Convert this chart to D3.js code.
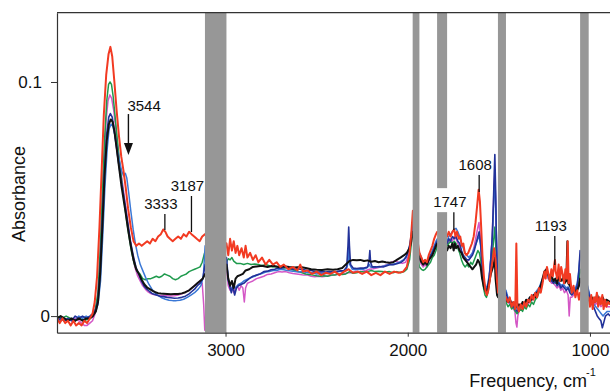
<!DOCTYPE html>
<html>
<head>
<meta charset="utf-8">
<script src="https://cdn.jsdelivr.net/npm/d3@7"></script>
<style>
  html, body { margin: 0; padding: 0; background: #fff; }
  svg { display: block; font-family: "Liberation Sans", Arial, sans-serif; }
</style>
</head>
<body>
<div id="chart"></div>
<script>
// spectra: [wavenumber cm-1, absorbance]
const red = [
  [3925,-0.001],[3910,-0.003],[3895,-0.001],[3880,-0.003],[3865,-0.002],[3850,-0.004],[3835,-0.002],[3820,-0.004],
  [3805,-0.003],[3790,-0.004],[3775,-0.002],[3760,-0.003],[3745,-0.001],[3730,0.001],[3718,0.006],[3705,0.017],
  [3692,0.038],[3680,0.062],[3668,0.086],[3655,0.103],[3642,0.112],[3632,0.115],[3622,0.111],[3610,0.100],
  [3598,0.088],[3585,0.077],[3572,0.068],[3560,0.062],[3548,0.055],[3535,0.046],[3520,0.038],[3505,0.032],
  [3490,0.030],[3475,0.031],[3460,0.030],[3445,0.031],[3430,0.032],[3415,0.031],[3400,0.033],[3385,0.032],
  [3370,0.034],[3355,0.035],[3342,0.037],[3330,0.036],[3318,0.034],[3305,0.033],[3290,0.032],[3275,0.033],
  [3260,0.034],[3245,0.033],[3230,0.035],[3215,0.034],[3200,0.036],[3187,0.035],[3172,0.034],[3158,0.033],
  [3142,0.032],[3128,0.034],[3112,0.035],
  [2995,0.031],[2985,0.026],[2975,0.033],[2965,0.028],[2955,0.032],[2945,0.027],[2935,0.030],[2925,0.026],
  [2912,0.029],[2900,0.025],[2890,0.030],[2880,0.025],[2865,0.027],[2850,0.024],[2835,0.026],[2820,0.023],
  [2800,0.025],[2780,0.022],[2760,0.024],[2740,0.022],[2720,0.023],[2700,0.021],[2680,0.022],[2655,0.020],
  [2630,0.021],[2605,0.0195],[2590,0.022],[2575,0.019],[2550,0.0195],[2525,0.018],[2500,0.019],[2475,0.0175],
  [2450,0.0185],[2425,0.018],[2400,0.019],[2375,0.0175],[2350,0.019],[2325,0.020],[2300,0.0185],[2275,0.019],
  [2250,0.018],[2225,0.019],[2200,0.0175],[2175,0.0185],[2150,0.0175],[2125,0.019],[2100,0.018],[2075,0.019],
  [2050,0.0185],[2025,0.019],[2005,0.021],[1990,0.027],[1980,0.036],[1972,0.045],
  [1936,0.027],[1925,0.025],[1915,0.023],[1905,0.024],[1895,0.023],[1885,0.026],[1875,0.028],[1865,0.030],
  [1855,0.033],[1845,0.035],[1838,0.036],
  [1784,0.034],[1775,0.036],[1765,0.034],[1755,0.036],[1745,0.037],[1738,0.034],[1730,0.036],[1720,0.033],
  [1712,0.034],[1703,0.030],[1695,0.031],[1687,0.027],[1678,0.026],[1668,0.027],[1658,0.029],[1648,0.031],
  [1638,0.034],[1628,0.040],[1618,0.048],[1611,0.054],[1604,0.049],[1597,0.038],[1590,0.026],[1582,0.017],
  [1574,0.011],[1566,0.009],[1558,0.011],[1550,0.015],[1542,0.020],[1534,0.024],[1526,0.029],[1518,0.024],
  [1510,0.015],[1504,0.010],
  [1461,0.008],[1450,0.006],[1440,0.008],[1430,0.004],[1420,0.006],[1410,0.003],[1404,0.031],[1398,0.004],
  [1390,0.002],[1380,0.005],[1370,0.003],[1360,0.006],[1350,0.004],[1340,0.007],[1330,0.006],[1320,0.009],
  [1310,0.007],[1300,0.010],[1290,0.008],[1280,0.012],[1270,0.010],[1260,0.014],[1250,0.019],[1243,0.016],
  [1236,0.021],[1228,0.018],[1220,0.015],[1212,0.020],[1204,0.017],[1196,0.022],[1192,0.024],[1188,0.019],
  [1180,0.016],[1172,0.022],[1165,0.015],[1158,0.021],[1150,0.018],[1142,0.014],[1135,0.020],[1128,0.016],
  [1122,0.032],[1117,0.014],[1110,0.018],[1100,0.010],[1090,0.013],[1080,0.008],[1070,0.011],[1060,0.007],
  [1054,0.010],
  [1007,0.008],[1000,0.004],[993,0.009],[985,0.003],[977,0.008],[970,0.006],[962,0.010],[955,0.004],
  [947,0.008],[940,0.005],[932,0.009],[925,0.003],[917,0.007],[910,0.004],[900,0.006],[890,0.005]
];

const green = [
  [3925,0.000],[3900,-0.001],[3875,0.000],[3850,-0.001],[3825,-0.002],[3800,-0.001],[3775,-0.002],[3750,-0.001],
  [3730,0.000],[3715,0.003],[3700,0.010],[3688,0.028],[3676,0.052],[3664,0.075],[3652,0.092],[3642,0.099],
  [3634,0.100],[3626,0.099],[3617,0.094],[3607,0.086],[3595,0.076],[3582,0.066],[3570,0.058],[3558,0.050],
  [3545,0.042],[3530,0.034],[3515,0.027],[3500,0.022],[3485,0.019],[3470,0.018],[3455,0.016],[3440,0.0155],
  [3425,0.016],[3410,0.016],[3395,0.0165],[3380,0.017],[3365,0.0165],[3350,0.017],[3335,0.018],[3320,0.0175],
  [3305,0.017],[3290,0.016],[3275,0.0155],[3260,0.016],[3245,0.017],[3230,0.0175],[3215,0.018],[3200,0.019],
  [3185,0.0195],[3170,0.020],[3155,0.0205],[3140,0.021],[3128,0.023],[3115,0.027],
  [2995,0.023],[2985,0.0245],[2975,0.024],[2965,0.025],[2955,0.0235],[2940,0.0225],[2920,0.0225],[2900,0.022],
  [2880,0.0225],[2860,0.022],[2840,0.0222],[2820,0.022],[2800,0.0215],[2780,0.022],[2760,0.0215],[2740,0.021],
  [2720,0.0212],[2700,0.021],[2680,0.0205],[2660,0.0205],[2640,0.020],[2620,0.0195],[2600,0.019],[2580,0.0185],
  [2560,0.018],[2540,0.0178],[2520,0.0175],[2500,0.0172],[2480,0.017],[2460,0.0172],[2440,0.017],[2420,0.0175],
  [2400,0.0175],[2380,0.018],[2360,0.0178],[2340,0.018],[2320,0.019],[2300,0.0183],[2280,0.0185],[2260,0.019],
  [2240,0.0188],[2220,0.019],[2200,0.0195],[2180,0.019],[2160,0.0192],[2140,0.019],[2120,0.0188],[2100,0.019],
  [2080,0.0185],[2060,0.019],[2040,0.0185],[2020,0.019],[2005,0.020],[1990,0.024],[1980,0.031],[1972,0.040],
  [1936,0.021],[1925,0.020],[1915,0.0195],[1905,0.020],[1895,0.021],[1885,0.022],[1875,0.023],[1865,0.025],
  [1855,0.026],[1845,0.028],[1838,0.030],
  [1784,0.030],[1775,0.031],[1765,0.032],[1755,0.031],[1745,0.032],[1735,0.031],[1725,0.029],[1715,0.027],
  [1705,0.024],[1695,0.022],[1685,0.021],[1675,0.022],[1665,0.021],[1655,0.023],[1645,0.022],[1635,0.024],
  [1625,0.026],[1615,0.028],[1607,0.027],[1600,0.024],[1592,0.018],[1584,0.012],[1576,0.009],[1568,0.008],
  [1560,0.010],[1552,0.014],[1544,0.020],[1536,0.026],[1528,0.033],[1522,0.038],[1516,0.028],[1508,0.016],
  [1504,0.012],
  [1461,0.006],[1450,0.004],[1440,0.005],[1430,0.003],[1420,0.004],[1410,0.002],[1400,0.001],[1390,0.002],
  [1380,0.003],[1370,0.002],[1360,0.004],[1350,0.003],[1340,0.005],[1330,0.004],[1320,0.006],[1310,0.005],
  [1300,0.007],[1290,0.008],[1280,0.010],[1270,0.012],[1260,0.015],[1250,0.018],[1240,0.019],[1230,0.017],
  [1220,0.015],[1210,0.016],[1200,0.015],[1190,0.014],[1180,0.015],[1170,0.017],[1160,0.015],[1150,0.016],
  [1140,0.018],[1130,0.015],[1120,0.017],[1110,0.014],[1100,0.012],[1090,0.011],[1080,0.010],[1070,0.012],
  [1060,0.015],[1054,0.020],
  [1007,0.009],[995,0.007],[985,0.008],[970,0.006],[955,0.007],[940,0.006],[925,0.005],[910,0.006],[890,0.005]
];

const black = [
  [3925,-0.001],[3905,0.000],[3885,-0.001],[3865,-0.002],[3845,-0.001],[3825,-0.002],[3805,-0.001],[3785,-0.002],
  [3765,-0.001],[3745,-0.001],[3728,0.000],[3712,0.002],[3700,0.006],[3688,0.018],[3676,0.038],[3664,0.060],
  [3652,0.075],[3640,0.082],[3630,0.084],[3620,0.083],[3610,0.079],[3598,0.072],[3585,0.064],[3572,0.056],
  [3560,0.050],[3548,0.044],[3535,0.037],[3520,0.030],[3505,0.024],[3490,0.020],[3475,0.018],[3460,0.0155],
  [3445,0.0135],[3430,0.0122],[3415,0.0115],[3400,0.0108],[3385,0.0102],[3370,0.0098],[3355,0.0096],[3340,0.0095],
  [3320,0.0094],[3300,0.0093],[3280,0.0094],[3260,0.0094],[3240,0.0097],[3220,0.0102],[3200,0.011],[3185,0.012],
  [3170,0.013],[3155,0.014],[3140,0.015],[3125,0.016],[3112,0.018],
  [2995,0.022],[2985,0.016],[2975,0.013],[2965,0.015],[2955,0.012],[2945,0.016],[2935,0.017],[2920,0.0175],
  [2905,0.018],[2890,0.0195],[2870,0.020],[2850,0.021],[2830,0.0212],[2800,0.0215],[2770,0.021],[2740,0.0215],
  [2710,0.021],[2680,0.0213],[2650,0.021],[2620,0.0208],[2590,0.021],[2560,0.0205],[2530,0.020],[2500,0.0198],
  [2470,0.0197],[2440,0.020],[2410,0.0198],[2385,0.020],[2360,0.0205],[2340,0.022],[2320,0.0235],[2300,0.024],
  [2280,0.0238],[2260,0.024],[2240,0.0235],[2220,0.0238],[2200,0.0232],[2180,0.0235],[2160,0.023],[2140,0.0233],
  [2120,0.023],[2100,0.0228],[2080,0.023],[2060,0.024],[2040,0.025],[2020,0.026],[2005,0.027],[1990,0.029],
  [1980,0.032],[1972,0.036],
  [1936,0.025],[1925,0.023],[1915,0.022],[1905,0.023],[1895,0.022],[1885,0.024],[1875,0.025],[1865,0.026],
  [1855,0.028],[1845,0.030],[1838,0.031],
  [1784,0.028],[1775,0.030],[1765,0.029],[1755,0.031],[1748,0.028],[1742,0.031],[1735,0.029],[1725,0.030],
  [1715,0.028],[1705,0.027],[1695,0.025],[1685,0.024],[1675,0.023],[1665,0.022],[1655,0.021],[1645,0.020],
  [1635,0.021],[1625,0.022],[1615,0.024],[1608,0.023],[1600,0.021],[1592,0.016],[1584,0.013],[1576,0.011],
  [1568,0.010],[1560,0.012],[1552,0.015],[1544,0.018],[1536,0.020],[1528,0.022],[1523,0.025],[1518,0.016],
  [1510,0.009],[1504,0.008],
  [1461,0.007],[1450,0.006],[1440,0.007],[1430,0.005],[1420,0.006],[1410,0.004],[1400,0.004],[1390,0.005],
  [1380,0.004],[1370,0.006],[1360,0.005],[1350,0.007],[1340,0.006],[1330,0.008],[1320,0.007],[1310,0.009],
  [1300,0.008],[1290,0.010],[1280,0.011],[1270,0.013],[1260,0.016],[1250,0.019],[1240,0.020],[1230,0.018],
  [1220,0.016],[1210,0.017],[1200,0.015],[1190,0.016],[1180,0.014],[1170,0.017],[1160,0.015],[1150,0.016],
  [1140,0.014],[1130,0.015],[1124,0.032],[1119,0.014],[1110,0.013],[1100,0.011],[1090,0.012],[1080,0.010],
  [1070,0.011],[1060,0.013],[1054,0.016],
  [1007,0.007],[998,0.006],[990,0.008],[980,0.006],[970,0.007],[960,0.009],[950,0.006],[940,0.007],
  [930,0.008],[920,0.006],[910,0.007],[890,0.006]
];

const navy = [
  [3925,-0.002],[3905,-0.001],[3885,-0.002],[3865,-0.001],[3845,-0.002],[3825,0.000],[3805,-0.001],[3785,0.000],
  [3765,-0.001],[3745,0.000],[3728,0.001],[3712,0.003],[3700,0.007],[3688,0.020],[3676,0.042],[3664,0.063],
  [3652,0.078],[3641,0.085],[3632,0.0865],[3622,0.085],[3612,0.080],[3600,0.073],[3588,0.066],[3575,0.059],
  [3562,0.053],[3550,0.047],[3537,0.040],[3522,0.032],[3507,0.026],[3492,0.021],[3477,0.018],[3462,0.015],
  [3447,0.0128],[3432,0.0115],[3417,0.0105],[3400,0.0095],[3380,0.009],[3360,0.0085],[3340,0.0083],[3320,0.008],
  [3300,0.0078],[3280,0.0076],[3260,0.0077],[3240,0.008],[3220,0.0085],[3200,0.0095],[3185,0.0105],[3170,0.0115],
  [3155,0.013],[3140,0.014],[3125,0.016],[3112,0.022],
  [2995,0.025],[2985,0.016],[2975,0.012],[2968,0.010],[2960,0.013],[2950,0.009],[2940,0.012],[2930,0.013],
  [2915,0.0135],[2900,0.014],[2885,0.015],[2870,0.016],[2850,0.017],[2830,0.0175],[2810,0.018],[2790,0.019],
  [2770,0.0192],[2750,0.0198],[2730,0.020],[2710,0.0205],[2690,0.0205],[2670,0.021],[2650,0.0205],[2630,0.020],
  [2610,0.0202],[2590,0.020],[2570,0.0198],[2550,0.0195],[2530,0.0195],[2510,0.019],[2490,0.0188],[2470,0.019],
  [2450,0.0188],[2430,0.019],[2410,0.0188],[2390,0.019],[2370,0.0193],[2350,0.0195],[2335,0.021],[2328,0.030],
  [2324,0.038],[2320,0.030],[2314,0.022],[2300,0.0205],[2280,0.0203],[2260,0.0205],[2240,0.0205],[2220,0.021],
  [2212,0.024],[2208,0.028],[2204,0.023],[2195,0.021],[2175,0.021],[2155,0.0212],[2135,0.021],[2115,0.0215],
  [2095,0.022],[2075,0.022],[2055,0.0225],[2035,0.023],[2020,0.024],[2005,0.026],[1990,0.030],[1980,0.035],
  [1972,0.040],
  [1936,0.026],[1925,0.024],[1915,0.022],[1905,0.023],[1895,0.022],[1885,0.024],[1875,0.026],[1865,0.027],
  [1855,0.029],[1845,0.031],[1838,0.032],
  [1784,0.031],[1775,0.033],[1765,0.032],[1755,0.034],[1745,0.033],[1735,0.034],[1725,0.032],[1715,0.031],
  [1705,0.028],[1695,0.026],[1685,0.025],[1675,0.024],[1665,0.024],[1655,0.025],[1645,0.026],[1635,0.028],
  [1625,0.031],[1615,0.034],[1608,0.036],[1600,0.031],[1592,0.022],[1584,0.015],[1576,0.012],[1568,0.011],
  [1560,0.013],[1552,0.017],[1544,0.024],[1536,0.034],[1530,0.048],[1525,0.062],[1522,0.069],[1518,0.055],
  [1514,0.035],[1509,0.020],[1504,0.015],
  [1461,0.010],[1450,0.007],[1440,0.006],[1430,0.005],[1420,0.004],[1410,0.003],[1400,0.002],[1390,0.003],
  [1380,0.004],[1370,0.004],[1360,0.005],[1350,0.005],[1340,0.006],[1330,0.007],[1320,0.007],[1310,0.008],
  [1300,0.009],[1290,0.010],[1280,0.011],[1270,0.013],[1260,0.015],[1250,0.018],[1240,0.019],[1230,0.018],
  [1220,0.016],[1210,0.015],[1200,0.014],[1190,0.015],[1180,0.013],[1170,0.014],[1160,0.012],[1150,0.013],
  [1140,0.012],[1130,0.011],[1120,0.012],[1110,0.010],[1100,0.009],[1090,0.010],[1080,0.011],[1070,0.013],
  [1062,0.018],[1054,0.028],
  [1007,0.010],[1000,0.007],[990,0.005],[980,0.004],[970,0.002],[960,0.000],[950,-0.001],[940,-0.002],
  [932,-0.005],[925,-0.003],[915,0.000],[900,0.001],[890,0.000]
];

const blue = [
  [3925,-0.001],[3905,-0.002],[3885,-0.001],[3865,-0.002],[3845,-0.001],[3825,-0.002],[3805,0.000],[3785,-0.001],
  [3765,0.000],[3745,-0.001],[3728,0.000],[3712,0.002],[3700,0.005],[3686,0.015],[3674,0.034],[3662,0.055],
  [3650,0.071],[3639,0.080],[3628,0.082],[3618,0.081],[3606,0.077],[3594,0.071],[3582,0.066],[3570,0.062],
  [3560,0.060],[3550,0.061],[3542,0.059],[3532,0.053],[3520,0.045],[3507,0.037],[3495,0.031],[3482,0.026],
  [3468,0.022],[3452,0.019],[3436,0.016],[3420,0.0135],[3404,0.0115],[3388,0.010],[3370,0.0088],[3350,0.0078],
  [3330,0.0072],[3310,0.0068],[3290,0.0066],[3270,0.0066],[3250,0.0068],[3230,0.0072],[3210,0.008],[3190,0.009],
  [3170,0.010],[3150,0.0115],[3135,0.013],[3122,0.017],[3112,0.030],
  [2995,0.024],[2985,0.015],[2975,0.013],[2965,0.011],[2955,0.013],[2945,0.012],[2930,0.0135],[2915,0.014],
  [2900,0.015],[2880,0.0158],[2860,0.0165],[2840,0.017],[2820,0.0178],[2800,0.0182],[2780,0.0188],[2760,0.019],
  [2740,0.0195],[2720,0.0195],[2700,0.020],[2680,0.0198],[2660,0.0195],[2640,0.0193],[2620,0.019],[2600,0.0188],
  [2580,0.019],[2560,0.0187],[2540,0.0185],[2520,0.0185],[2500,0.018],[2480,0.0182],[2460,0.018],[2440,0.0183],
  [2420,0.0185],[2400,0.0187],[2380,0.019],[2360,0.019],[2340,0.0195],[2330,0.022],[2324,0.029],[2318,0.022],
  [2305,0.020],[2285,0.0198],[2265,0.020],[2245,0.020],[2225,0.0205],[2210,0.022],[2205,0.021],[2185,0.0208],
  [2165,0.021],[2145,0.0212],[2125,0.0215],[2105,0.022],[2085,0.022],[2065,0.0225],[2045,0.023],[2025,0.024],
  [2008,0.025],[1992,0.029],[1980,0.034],[1972,0.039],
  [1936,0.027],[1925,0.025],[1915,0.023],[1905,0.024],[1895,0.023],[1885,0.025],[1875,0.026],[1865,0.028],
  [1855,0.030],[1845,0.032],[1838,0.033],
  [1784,0.032],[1775,0.034],[1765,0.035],[1755,0.036],[1745,0.037],[1735,0.0375],[1725,0.036],[1715,0.034],
  [1705,0.031],[1695,0.029],[1685,0.027],[1675,0.026],[1665,0.025],[1655,0.026],[1645,0.027],[1635,0.029],
  [1625,0.031],[1615,0.033],[1608,0.034],[1600,0.030],[1592,0.022],[1584,0.016],[1576,0.013],[1568,0.012],
  [1560,0.014],[1552,0.018],[1544,0.025],[1536,0.033],[1530,0.044],[1525,0.054],[1521,0.058],[1517,0.047],
  [1512,0.030],[1507,0.019],[1504,0.016],
  [1461,0.011],[1450,0.008],[1440,0.007],[1430,0.006],[1420,0.005],[1410,0.004],[1400,0.003],[1390,0.004],
  [1380,0.005],[1370,0.005],[1360,0.006],[1350,0.006],[1340,0.007],[1330,0.008],[1320,0.008],[1310,0.009],
  [1300,0.010],[1290,0.011],[1280,0.012],[1270,0.014],[1260,0.016],[1250,0.018],[1240,0.0185],[1230,0.017],
  [1220,0.016],[1210,0.015],[1200,0.0145],[1190,0.015],[1180,0.014],[1170,0.0145],[1160,0.013],[1150,0.0135],
  [1140,0.013],[1130,0.012],[1120,0.0125],[1110,0.011],[1100,0.010],[1090,0.011],[1080,0.012],[1070,0.014],
  [1062,0.019],[1054,0.026],
  [1007,0.011],[998,0.008],[988,0.006],[978,0.005],[968,0.004],[958,0.003],[948,0.002],[938,0.001],
  [928,0.000],[918,0.001],[905,0.002],[890,0.002]
];

const magenta = [
  [3925,-0.002],[3905,-0.001],[3885,-0.002],[3865,-0.001],[3845,-0.002],[3825,-0.001],[3805,-0.002],[3790,-0.003],
  [3775,-0.004],[3760,-0.004],[3745,-0.003],[3730,-0.002],[3716,0.001],[3704,0.006],[3692,0.020],[3680,0.042],
  [3668,0.066],[3656,0.083],[3645,0.092],[3635,0.0945],[3625,0.093],[3614,0.088],[3602,0.080],[3590,0.071],
  [3577,0.063],[3564,0.056],[3552,0.049],[3540,0.042],[3526,0.034],[3512,0.027],[3498,0.021],[3484,0.0175],
  [3470,0.0152],[3455,0.013],[3440,0.0115],[3425,0.0103],[3410,0.0096],[3395,0.0092],[3380,0.009],[3360,0.0088],
  [3340,0.0088],[3320,0.0087],[3300,0.0086],[3280,0.0087],[3260,0.009],[3240,0.0095],[3220,0.0102],[3200,0.011],
  [3185,0.012],[3170,0.013],[3155,0.014],[3140,0.015],[3128,0.014],[3120,0.005],[3114,-0.006],
  [2995,0.020],[2985,0.013],[2975,0.011],[2965,0.012],[2955,0.010],[2945,0.012],[2935,0.013],[2925,0.011],
  [2915,0.013],[2905,0.012],[2897,0.006],[2890,0.012],[2880,0.014],[2865,0.0145],[2850,0.015],[2830,0.016],
  [2810,0.0165],[2790,0.017],[2770,0.0178],[2750,0.018],[2730,0.0185],[2710,0.019],[2690,0.0188],[2670,0.019],
  [2650,0.0185],[2630,0.0182],[2610,0.018],[2590,0.0178],[2570,0.0175],[2550,0.0175],[2530,0.017],[2510,0.0168],
  [2490,0.017],[2470,0.0168],[2450,0.017],[2430,0.0172],[2410,0.0175],[2390,0.0178],[2370,0.018],[2350,0.018],
  [2330,0.0185],[2310,0.0185],[2290,0.019],[2270,0.019],[2250,0.0192],[2230,0.0195],[2210,0.020],[2190,0.0202],
  [2170,0.0205],[2150,0.021],[2130,0.0215],[2110,0.022],[2090,0.023],[2070,0.0235],[2050,0.023],[2030,0.0225],
  [2012,0.023],[1995,0.026],[1983,0.031],[1972,0.037],
  [1936,0.024],[1925,0.022],[1915,0.021],[1905,0.022],[1895,0.021],[1885,0.023],[1875,0.025],[1865,0.026],
  [1855,0.028],[1845,0.030],[1838,0.031],
  [1784,0.030],[1775,0.032],[1765,0.033],[1755,0.032],[1745,0.034],[1735,0.033],[1725,0.031],[1715,0.030],
  [1705,0.027],[1695,0.025],[1685,0.024],[1675,0.023],[1665,0.024],[1655,0.025],[1645,0.027],[1635,0.030],
  [1625,0.034],[1615,0.038],[1609,0.040],[1602,0.034],[1594,0.024],[1586,0.016],[1578,0.012],[1570,0.010],
  [1562,0.012],[1554,0.016],[1546,0.023],[1538,0.032],[1531,0.045],[1526,0.056],[1522,0.061],[1518,0.050],
  [1513,0.032],[1508,0.018],[1504,0.012],
  [1461,0.008],[1450,0.006],[1440,0.005],[1430,0.004],[1420,0.003],[1412,0.002],[1406,-0.003],[1401,-0.0047],
  [1396,0.000],[1390,0.002],[1380,0.003],[1370,0.003],[1360,0.004],[1350,0.004],[1340,0.005],[1330,0.006],
  [1320,0.007],[1310,0.008],[1300,0.009],[1290,0.010],[1280,0.011],[1270,0.013],[1260,0.015],[1250,0.017],
  [1240,0.018],[1230,0.016],[1220,0.015],[1210,0.014],[1200,0.014],[1190,0.013],[1180,0.012],[1170,0.013],
  [1160,0.011],[1150,0.012],[1140,0.010],[1130,0.011],[1120,0.009],[1114,0.000],[1108,0.008],[1100,0.008],
  [1090,0.009],[1080,0.010],[1070,0.011],[1060,0.013],[1054,0.015],
  [1007,0.008],[995,0.006],[985,0.007],[970,0.005],[955,0.006],[940,0.004],[925,0.005],[910,0.004],[890,0.004]
];

// drawing order (back to front) and colours
const seriesNames = ['magenta', 'green', 'blue', 'navy', 'black', 'red'];
const seriesData = [magenta, green, blue, navy, black, red];
const seriesColors = ['#d457c6', '#1e9a4c', '#3a78d6', '#22329a', '#111111', '#f23a22'];
const seriesWidths = [1.5, 1.5, 1.5, 1.6, 2, 2];

// masked regions (gray bars), cm-1
const bandFrom = [3113, 1973, 1839, 1505, 1054];
const bandTo = [2995, 1936, 1784, 1461, 1007];

// annotated peaks
const peakLabels = ['3544', '3333', '3187', '1747', '1608', '1193'];
const peakWn = [3544, 3333, 3187, 1747, 1608, 1193];
const peakLineTop = [0.0863, 0.0436, 0.0513, 0.0444, 0.0603, 0.0342];
const peakLineBottom = [0.0688, 0.0368, 0.0359, 0.0368, 0.0530, 0.0218];

const xTicks = [3000, 2000, 1000];
const yTicks = [0, 0.1];

const width = 610;
const height = 392;
const plotTop = 12.7;
const plotBottom = 332.7;
const plotLeft = 57;

const x = d3.scaleLinear().domain([3925, 890]).range([plotLeft, width]);
const y = d3.scaleLinear().domain([-0.0071, 0.1296]).range([plotBottom, plotTop]);

const svg = d3.select('#chart').append('svg')
  .attr('width', width)
  .attr('height', height);

svg.append('defs').append('clipPath').attr('id', 'plot-clip')
  .append('rect')
  .attr('x', plotLeft)
  .attr('y', plotTop)
  .attr('width', width - plotLeft)
  .attr('height', plotBottom - plotTop);

const plot = svg.append('g').attr('clip-path', 'url(#plot-clip)');

const line = d3.line()
  .x((d) => x(d[0]))
  .y((d) => y(d[1]));

plot.append('g')
  .selectAll('path')
  .data(seriesData)
  .join('path')
  .attr('class', (d, i) => `spectrum ${seriesNames[i]}`)
  .attr('d', line)
  .attr('fill', 'none')
  .attr('stroke', (d, i) => seriesColors[i])
  .attr('stroke-width', (d, i) => seriesWidths[i])
  .attr('stroke-linejoin', 'round');

// gray bars on top of the traces
plot.append('g')
  .selectAll('rect')
  .data(bandFrom)
  .join('rect')
  .attr('x', (d) => x(d))
  .attr('y', plotTop)
  .attr('width', (d, i) => x(bandTo[i]) - x(d))
  .attr('height', plotBottom - plotTop)
  .attr('fill', '#979797');

// axes
const xAxis = svg.append('g')
  .attr('transform', `translate(0, ${plotBottom})`)
  .call(d3.axisBottom(x).tickValues(xTicks).tickFormat(d3.format('d')).tickSize(4).tickSizeOuter(0).tickPadding(7));

const yAxis = svg.append('g')
  .attr('transform', `translate(${plotLeft}, 0)`)
  .call(d3.axisLeft(y).tickValues(yTicks).tickFormat((d) => (d === 0 ? '0' : '0.1')).tickSize(6).tickSizeOuter(0).tickPadding(1));

[xAxis, yAxis].forEach((ax) => {
  ax.select('.domain').attr('stroke', '#333').attr('stroke-width', 1.2);
  ax.selectAll('.tick line').attr('stroke', '#333');
  ax.selectAll('.tick text').attr('fill', '#111').style('font-size', '17px').style('font-family', '"Liberation Sans", Arial, sans-serif');
});
yAxis.selectAll('.tick text').filter((d) => d !== 0).attr('dx', -8);

// top frame line
svg.append('line')
  .attr('x1', plotLeft).attr('x2', width)
  .attr('y1', plotTop).attr('y2', plotTop)
  .attr('stroke', '#333')
  .attr('stroke-width', 1.2);

// axis titles
svg.append('text')
  .attr('transform', 'translate(25, 194) rotate(-90)')
  .attr('text-anchor', 'middle')
  .style('font-size', '18px')
  .attr('fill', '#111')
  .text('Absorbance');

svg.append('text')
  .attr('x', 587)
  .attr('y', 387)
  .attr('text-anchor', 'end')
  .style('font-size', '18px')
  .attr('fill', '#111')
  .text('Frequency, cm');
svg.append('text')
  .attr('x', 586)
  .attr('y', 376)
  .style('font-size', '11px')
  .attr('fill', '#111')
  .text('-1');

// peak annotations
const ann = svg.append('g').style('font-size', '15px').attr('fill', '#111');

peakLabels.forEach((label, i) => {
  const px = x(peakWn[i]);
  if (i === 0) {
    // arrow for 3544
    const ax = px + 2;
    ann.append('line')
      .attr('x1', ax).attr('x2', ax)
      .attr('y1', y(peakLineTop[i])).attr('y2', y(peakLineBottom[i]) - 10)
      .attr('stroke', '#111').attr('stroke-width', 1.4);
    ann.append('path')
      .attr('d', `M${ax - 4.5},${y(peakLineBottom[i]) - 12}L${ax + 4.5},${y(peakLineBottom[i]) - 12}L${ax},${y(peakLineBottom[i])}Z`)
      .attr('fill', '#111');
    ann.append('text')
      .attr('x', ax - 1)
      .attr('y', y(peakLineTop[i]) - 3.5)
      .text(label);
    return;
  }
  if (label === '1747') {
    ann.append('rect')
      .attr('x', px - 24).attr('y', y(peakLineTop[i]) - 24)
      .attr('width', 36).attr('height', 24)
      .attr('fill', '#fff');
  }
  ann.append('line')
    .attr('x1', px).attr('x2', px)
    .attr('y1', y(peakLineTop[i])).attr('y2', y(peakLineBottom[i]))
    .attr('stroke', '#111').attr('stroke-width', 1.3);
  ann.append('text')
    .attr('x', px - 4)
    .attr('y', y(peakLineTop[i]) - 5)
    .attr('text-anchor', 'middle')
    .text(label);
});
</script>
</body>
</html>
